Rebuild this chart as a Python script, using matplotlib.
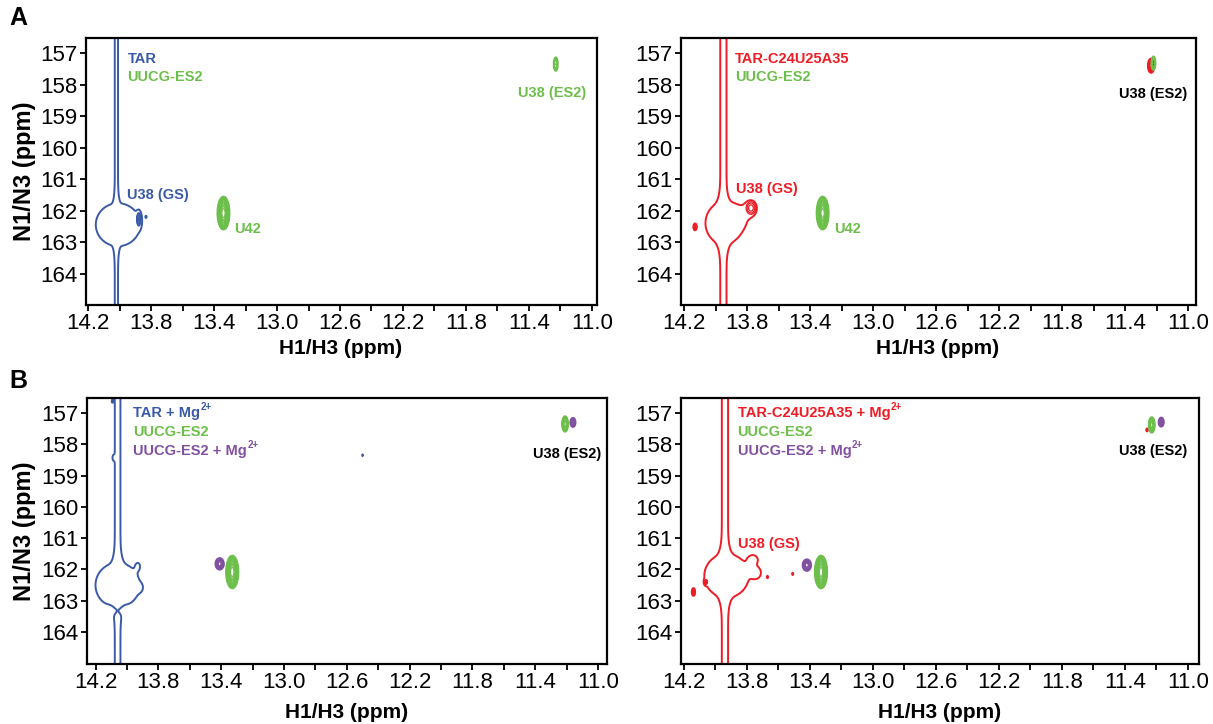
import numpy as np
import matplotlib
matplotlib.use("Agg")
import matplotlib.pyplot as plt
from matplotlib.ticker import MultipleLocator, FixedLocator

plt.rcParams['font.family'] = ['Liberation Sans', 'DejaVu Sans']

BLUE = '#3a5aa8'
GREEN = '#6cbf4a'
RED = '#ee1c25'
PURPLE = '#8150a0'

# ---------------- data: peaks (H ppm, N ppm, width H, width N, amplitude, multi-level) -------------
# Panel A left
tar_peaks = [
    (14.020, 160.0, 0.0115, 1e3, 1.5, 0),     # t1 ridge
    (14.010, 162.45, 0.095, 0.46, 3.0, 0),     # broad base
    (13.878, 162.28, 0.009, 0.14, 4.0, 1),     # U38 (GS)
    (13.832, 162.20, 0.003, 0.025, 1.3, 0),
]
ucg_A1 = [
    (13.340, 162.08, 0.0146, 0.20, 30.0, 1),   # U42
    (11.230, 157.35, 0.0100, 0.17, 2.2, 1),    # U38 (ES2)
]
# Panel A right
mut_peaks = [
    (13.950, 160.0, 0.022, 1e3, 1.5, 0),
    (13.945, 162.40, 0.080, 0.45, 3.0, 0),
    (13.860, 162.20, 0.050, 0.25, 1.0, 0),
    (13.775, 161.92, 0.026, 0.17, 2.6, 1),
    (13.830, 162.08, 0.020, 0.10, 1.0, 0),
    (14.130, 162.52, 0.006, 0.06, 4.0, 1),
    (11.235, 157.40, 0.010, 0.11, 8.0, 1),
]
ucg_A2 = [
    (13.320, 162.08, 0.0146, 0.20, 30.0, 1),
    (11.220, 157.32, 0.0100, 0.17, 2.2, 1),
]
# Panel B left
tarmg_peaks = [
    (14.060, 160.0, 0.020, 1e3, 1.5, 0),
    (14.060, 163.30, 0.050, 0.10, -1.2, 0),
    (14.060, 162.50, 0.095, 0.48, 3.0, 0),
    (13.930, 161.88, 0.015, 0.12, 0.8, 0),
    (13.920, 162.58, 0.015, 0.10, 0.8, 0),
    (14.088, 158.43, 0.006, 0.08, 0.8, 0),
    (14.095, 156.62, 0.006, 0.08, 0.8, 0),
    (12.500, 158.35, 0.002, 0.05, 1.2, 0),
]
ucg_B1 = [
    (13.330, 162.08, 0.0150, 0.20, 30.0, 1),
    (11.210, 157.35, 0.0100, 0.13, 6.0, 1),
]
ucgmg_B1 = [
    (13.410, 161.82, 0.013, 0.09, 8.0, 1),
    (11.160, 157.30, 0.009, 0.08, 5.0, 1),
]
# Panel B right
mutmg_peaks = [
    (13.940, 160.0, 0.022, 1e3, 1.5, 0),
    (13.930, 162.20, 0.095, 0.47, 3.0, 0),
    (13.760, 161.68, 0.025, 0.12, 1.5, 0),
    (13.740, 162.10, 0.025, 0.15, 1.5, 0),
    (14.060, 162.40, 0.006, 0.05, 4.0, 1),
    (14.140, 162.72, 0.006, 0.07, 4.0, 1),
    (13.670, 162.24, 0.003, 0.03, 2.0, 0),
    (13.510, 162.14, 0.003, 0.03, 2.0, 0),
    (11.260, 157.54, 0.004, 0.04, 2.0, 1),
]
ucg_B2 = [
    (13.330, 162.08, 0.0150, 0.20, 30.0, 1),
    (11.230, 157.38, 0.0100, 0.13, 6.0, 1),
]
ucgmg_B2 = [
    (13.420, 161.86, 0.013, 0.09, 8.0, 1),
    (11.170, 157.29, 0.009, 0.08, 5.0, 1),
]

x_major = [14.2, 13.8, 13.4, 13.0, 12.6, 12.2, 11.8, 11.4, 11.0]
x_labels = ['14.2', '13.8', '13.4', '13.0', '12.6', '12.2', '11.8', '11.4', '11.0']
y_major = [157, 158, 159, 160, 161, 162, 163, 164]

W, H = 1213, 724
fig = plt.figure(figsize=(W / 100, H / 100), dpi=100)


def add_ax(l, r, t, b):
    return fig.add_axes([l / W, 1 - b / H, (r - l) / W, (b - t) / H])


def draw_spectrum(ax, peaks, color, xlim, lw=1.4):
    x = np.linspace(xlim[1], xlim[0], 2600)
    y = np.linspace(156.3, 165.2, 900)
    env = np.zeros((len(y), len(x)))
    high = np.zeros_like(env)
    for (h, n, wh, wn, a, multi) in peaks:
        g = a * np.exp(-0.5 * ((y - n) / wn) ** 2)[:, None] * np.exp(-0.5 * ((x - h) / wh) ** 2)[None, :]
        env += g
        if multi:
            high += g
    ax.contour(x, y, env, levels=[1.0], colors=color, linewidths=lw)
    r = 1.3
    if high.max() > r:
        n = int(np.log(high.max()) / np.log(r))
        lev = r ** np.arange(1, n + 1)
        ax.contour(x, y, high, levels=lev, colors=color, linewidths=0.9)


def style(ax, xlim, ylim):
    ax.set_xlim(*xlim)
    ax.set_ylim(*ylim)
    ax.xaxis.set_major_locator(FixedLocator(x_major))
    ax.set_xticklabels(x_labels)
    ax.xaxis.set_minor_locator(MultipleLocator(0.2))
    ax.yaxis.set_major_locator(FixedLocator(y_major))
    ax.tick_params(axis='both', which='both', direction='out', length=4, width=1.3,
                   labelsize=16, pad=2)
    for s in ax.spines.values():
        s.set_linewidth(1.6)


def label(ax, h, n, s, color, ha='left'):
    ax.text(h, n, s, color=color, fontsize=10.5, fontweight='bold', ha=ha, va='center')


def label_mg(ax, h, n, s, color):
    t = ax.text(h, n, s + ' + Mg', color=color, fontsize=10.5, fontweight='bold',
                ha='left', va='center')
    ax.annotate('2+', xy=(1, 0.55), xycoords=t, xytext=(0.5, 0), textcoords='offset points',
                color=color, fontsize=7, fontweight='bold', ha='left', va='bottom')


# ---------------- Panel A left ----------------
xlA1 = (14.213, 10.968)
ylA = (165.0, 156.52)
ax = add_ax(86, 597, 38, 305)
draw_spectrum(ax, tar_peaks, BLUE, xlA1)
draw_spectrum(ax, ucg_A1, GREEN, xlA1)
style(ax, xlA1, ylA)
label(ax, 13.95, 157.2, 'TAR', BLUE)
label(ax, 13.95, 157.76, 'UUCG-ES2', GREEN)
label(ax, 13.95, 161.5, 'U38 (GS)', BLUE)
label(ax, 13.27, 162.6, 'U42', GREEN)
label(ax, 11.25, 158.27, 'U38 (ES2)', GREEN, ha='center')

# ---------------- Panel A right ----------------
xlA2 = (14.219, 10.95)
ax = add_ax(681, 1196, 38, 305)
draw_spectrum(ax, mut_peaks, RED, xlA2)
draw_spectrum(ax, ucg_A2, GREEN, xlA2)
style(ax, xlA2, ylA)
label(ax, 13.875, 157.2, 'TAR-C24U25A35', RED)
label(ax, 13.875, 157.76, 'UUCG-ES2', GREEN)
label(ax, 13.87, 161.3, 'U38 (GS)', RED)
label(ax, 13.25, 162.6, 'U42', GREEN)
label(ax, 11.22, 158.3, 'U38 (ES2)', 'black', ha='center')

# ---------------- Panel B left ----------------
xlB1 = (14.255, 10.943)
ylB = (165.02, 156.52)
ax = add_ax(87, 607, 398, 664)
draw_spectrum(ax, tarmg_peaks, BLUE, xlB1)
draw_spectrum(ax, ucg_B1, GREEN, xlB1)
draw_spectrum(ax, ucgmg_B1, PURPLE, xlB1)
style(ax, xlB1, ylB)
label_mg(ax, 13.96, 157.0, 'TAR', BLUE)
label(ax, 13.96, 157.6, 'UUCG-ES2', GREEN)
label_mg(ax, 13.96, 158.2, 'UUCG-ES2', PURPLE)
label(ax, 11.2, 158.3, 'U38 (ES2)', 'black', ha='center')

# ---------------- Panel B right ----------------
xlB2 = (14.219, 10.93)
ax = add_ax(681, 1199, 398, 664)
draw_spectrum(ax, mutmg_peaks, RED, xlB2)
draw_spectrum(ax, ucg_B2, GREEN, xlB2)
draw_spectrum(ax, ucgmg_B2, PURPLE, xlB2)
style(ax, xlB2, ylB)
label_mg(ax, 13.86, 157.0, 'TAR-C24U25A35', RED)
label(ax, 13.86, 157.6, 'UUCG-ES2', GREEN)
label_mg(ax, 13.86, 158.2, 'UUCG-ES2', PURPLE)
label(ax, 13.86, 161.2, 'U38 (GS)', RED)
label(ax, 11.22, 158.2, 'U38 (ES2)', 'black', ha='center')

# ---------------- figure-level text ----------------
for yc in (171, 531):
    fig.text(25 / W, 1 - yc / H, 'N1/N3 (ppm)', rotation=90, fontsize=17,
             fontweight='bold', ha='center', va='center')
fig.text(341 / W, 1 - 348 / H, 'H1/H3 (ppm)', fontsize=15, fontweight='bold', ha='center', va='center')
fig.text(938 / W, 1 - 348 / H, 'H1/H3 (ppm)', fontsize=15, fontweight='bold', ha='center', va='center')
fig.text(347 / W, 1 - 712 / H, 'H1/H3 (ppm)', fontsize=15, fontweight='bold', ha='center', va='center')
fig.text(940 / W, 1 - 712 / H, 'H1/H3 (ppm)', fontsize=15, fontweight='bold', ha='center', va='center')
fig.text(18 / W, 1 - 18 / H, 'A', fontsize=18, fontweight='bold', ha='center', va='center')
fig.text(18 / W, 1 - 381 / H, 'B', fontsize=18, fontweight='bold', ha='center', va='center')

fig.savefig('out.png', dpi=100)
